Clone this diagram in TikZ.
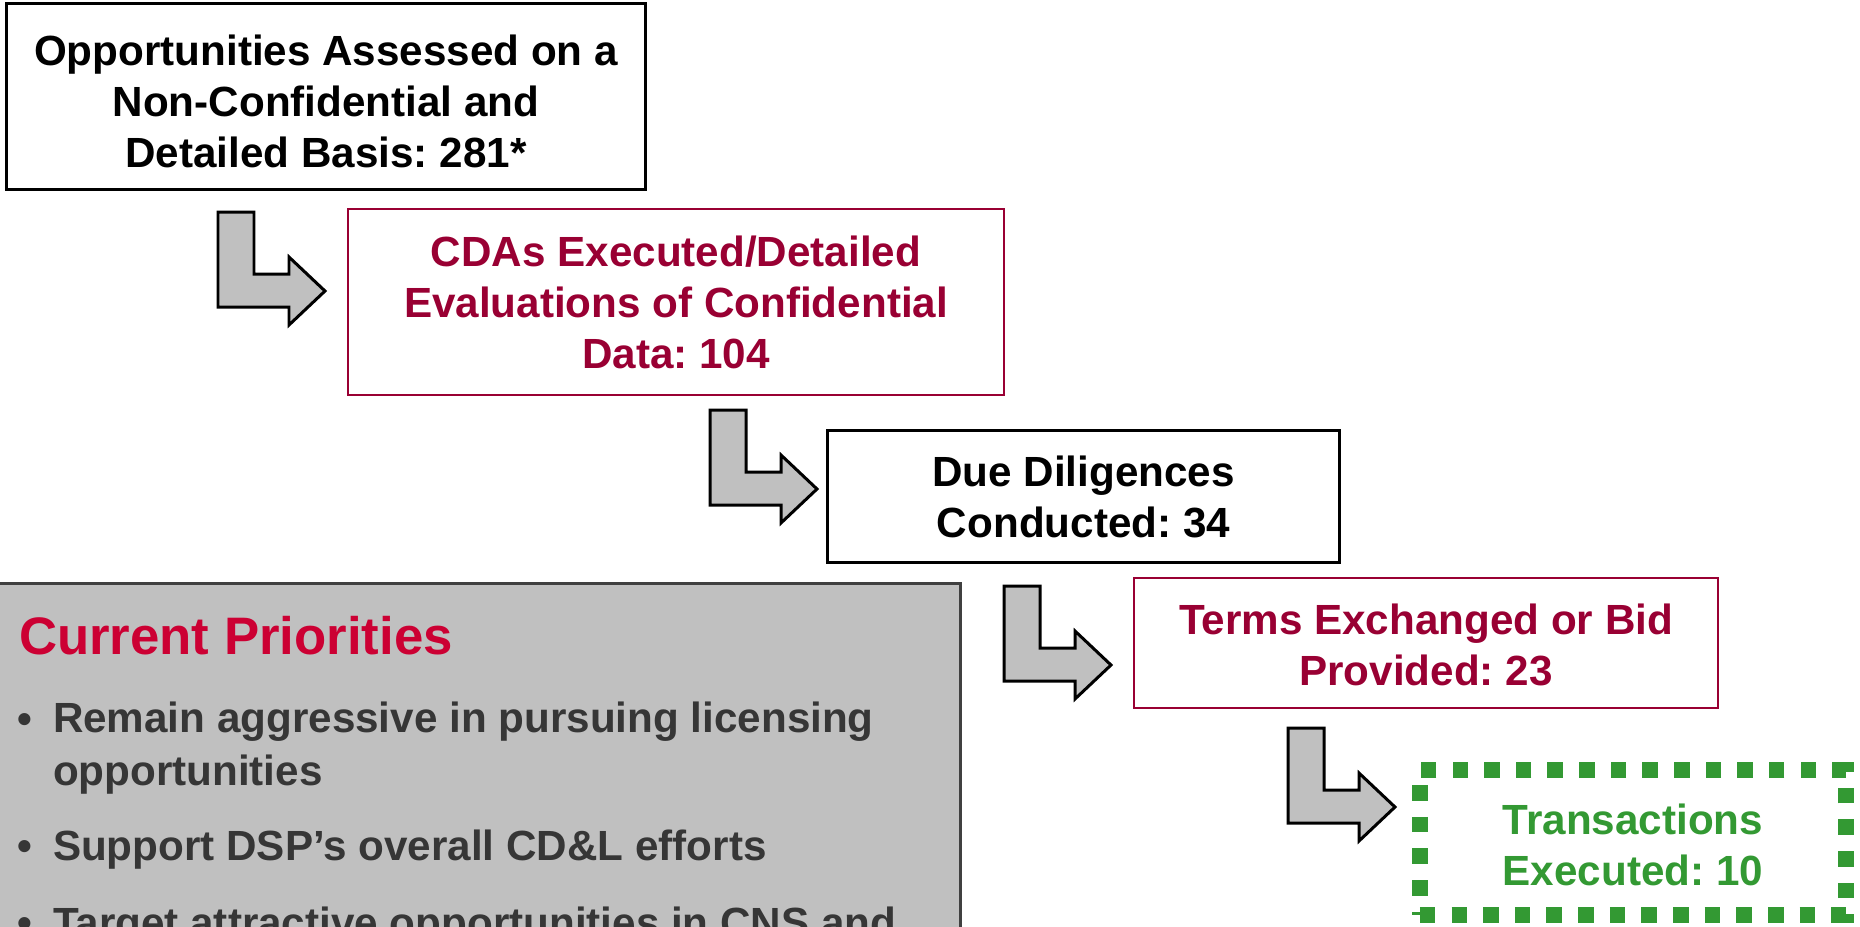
\documentclass[tikz,border=0pt]{standalone}
\usepackage{fontspec}
\setmainfont{Liberation Sans}
\frenchspacing
\definecolor{crim}{HTML}{990033}
\definecolor{hdr}{HTML}{CC0033}
\definecolor{grn}{HTML}{339933}
\definecolor{arrgray}{HTML}{C0C0C0}
\definecolor{bultext}{HTML}{363636}
\definecolor{panelborder}{HTML}{404040}
\begin{document}
\begin{tikzpicture}[x=0.01cm,y=-0.01cm,
  every node/.style={font=\bfseries\fontsize{12}{14.5}\selectfont, align=center, inner sep=0pt, outer sep=0pt},
  blackbox/.style={draw=black, line width=0.85pt, text=black},
  redbox/.style={draw=crim, line width=0.6pt, text=crim},
  greenbox/.style={draw=grn, line width=4.4pt, dash pattern=on 4.4pt off 4.6pt, text=grn},
  bentarrow/.style={fill=arrgray, draw=black, line width=0.85pt, line join=miter},
  panel/.style={fill=arrgray, draw=panelborder, line width=0.85pt},
  bultxt/.style={text=bultext, align=left, font=\bfseries\fontsize{12}{14.8}\selectfont},
  bentarr/.pic={\draw[bentarrow] (0,0) -- (36,0) -- (36,62) -- (71,62) -- (71,45) -- (107,79) -- (71,113) -- (71,95) -- (0,95) -- cycle;}
]
\useasboundingbox (0,0) rectangle (1860,926);
\clip (0,0) rectangle (1860,926);

% stage boxes
\node[blackbox, minimum width=6.38cm, minimum height=1.85cm] (b1) at (326,96.5)
  {\rule{0pt}{11.5pt}Opportunities Assessed on a\\Non-Confidential and\\Detailed Basis: 281*};
\node[redbox, minimum width=6.56cm, minimum height=1.86cm] (b2) at (676,302)
  {CDAs Executed/Detailed\\Evaluations of Confidential\\Data: 104};
\node[blackbox, minimum width=5.11cm, minimum height=1.31cm] (b3) at (1083.5,496.5)
  {Due Diligences\\Conducted: 34};
\node[redbox, minimum width=5.84cm, minimum height=1.30cm] (b4) at (1426,643)
  {\rule{0pt}{10pt}Terms Exchanged or Bid\\Provided: 23};
\node[greenbox, minimum width=4.26cm, minimum height=1.45cm] (b5) at (1633,842.5)
  {\rule{0pt}{10pt}Transactions\\Executed: 10};

% bent arrows
\pic (a1) at (218,212) {bentarr};
\pic (a2) at (710,410) {bentarr};
\pic (a3) at (1004,586) {bentarr};
\pic (a4) at (1288,728) {bentarr};

% priorities panel
\node[panel, anchor=north west, minimum width=9.62cm, minimum height=4.5cm] (prio) at (-2,583) {};
\node[anchor=base west, text=hdr, font=\bfseries\fontsize{15}{18}\selectfont] (hd) at (19,654) {Current Priorities};
\node[bultxt, anchor=base] (d1) at (25,733) {•};
\node[bultxt, anchor=base west] (p1) at (53,785) {Remain aggressive in pursuing licensing\\opportunities};
\node[bultxt, anchor=base] (d2) at (25,860) {•};
\node[bultxt, anchor=base west] (p2) at (53,860) {Support DSP’s overall CD\&L efforts};
\node[bultxt, anchor=base] (d3) at (25,937) {•};
\node[bultxt, anchor=base west] (p3) at (53,937) {Target attractive opportunities in CNS and};
\end{tikzpicture}
\end{document}
